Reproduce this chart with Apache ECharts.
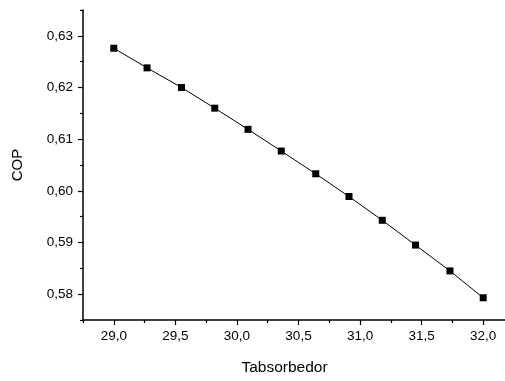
<!DOCTYPE html>
<html>
<head>
<meta charset="utf-8">
<script src="https://cdn.jsdelivr.net/npm/echarts@6/dist/echarts.min.js"></script>
<style>
  html, body { margin: 0; padding: 0; background: #fff; overflow: hidden; }
  #chart { width: 530px; height: 381px; }
</style>
</head>
<body>
<div id="chart"></div>
<script>
// data
const tabsorbedor = [29.0, 29.27, 29.55, 29.82, 30.09, 30.36, 30.64, 30.91, 31.18, 31.45, 31.73, 32.0]
const cop = [0.6276, 0.6238, 0.6200, 0.6160, 0.6119, 0.6077, 0.6033, 0.5989, 0.5943, 0.5895, 0.5845, 0.5793]

// tick positions
const xMajorTicks = [29.0, 29.5, 30.0, 30.5, 31.0, 31.5, 32.0]
const xMinorTicks = [28.75, 29.25, 29.75, 30.25, 30.75, 31.25, 31.75, 32.25]
const yMajorTicks = [0.58, 0.59, 0.60, 0.61, 0.62, 0.63]
const yMinorTicks = [0.575, 0.585, 0.595, 0.605, 0.615, 0.625, 0.635]

const chart = echarts.init(document.getElementById('chart'))

const font = 'Liberation Sans, Arial, sans-serif'
const comma = (v, d) => v.toFixed(d).replace('.', ',')

const option = {
  animation: false,
  backgroundColor: '#fff',
  grid: { left: 83, right: 16, top: 10, bottom: 53 },
  xAxis: [
    {
      type: 'value',
      min: 28.75,
      max: 32.25,
      name: 'Tabsorbedor',
      nameLocation: 'middle',
      nameGap: 40,
      nameTextStyle: { color: '#000', fontFamily: font, fontSize: 15.5, padding: [0, 28, 0, 0] },
      axisLine: { show: true, onZero: false, lineStyle: { color: '#000', width: 1.5 } },
      axisTick: { show: true, length: 5, customValues: xMajorTicks, lineStyle: { color: '#000', width: 1.2 } },
      axisLabel: { customValues: xMajorTicks, color: '#000', fontFamily: font, fontSize: 13.5, margin: 9, formatter: v => comma(v, 1) },
      splitLine: { show: false }
    },
    {
      type: 'value',
      min: 28.75,
      max: 32.25,
      position: 'bottom',
      axisLine: { show: false, onZero: false },
      axisTick: { show: true, length: 3, customValues: xMinorTicks, lineStyle: { color: '#000', width: 1.2 } },
      axisLabel: { show: false },
      splitLine: { show: false }
    }
  ],
  yAxis: [
    {
      type: 'value',
      min: 0.575,
      max: 0.635,
      name: 'COP',
      nameLocation: 'middle',
      nameGap: 58,
      nameTextStyle: { color: '#000', fontFamily: font, fontSize: 15 },
      axisLine: { show: true, onZero: false, lineStyle: { color: '#000', width: 1.5 } },
      axisTick: { show: true, length: 5, customValues: yMajorTicks, lineStyle: { color: '#000', width: 1.2 } },
      axisLabel: { customValues: yMajorTicks, color: '#000', fontFamily: font, fontSize: 13.5, margin: 10, formatter: v => comma(v, 2) },
      splitLine: { show: false }
    },
    {
      type: 'value',
      min: 0.575,
      max: 0.635,
      position: 'left',
      axisLine: { show: false, onZero: false },
      axisTick: { show: true, length: 3, customValues: yMinorTicks, lineStyle: { color: '#000', width: 1.2 } },
      axisLabel: { show: false },
      splitLine: { show: false }
    }
  ],
  series: [
    {
      type: 'line',
      data: tabsorbedor.map((t, i) => [t, cop[i]]),
      symbol: 'rect',
      symbolSize: 7,
      showAllSymbol: true,
      itemStyle: { color: '#000' },
      lineStyle: { color: '#000', width: 1 }
    }
  ]
}

chart.setOption(option)
</script>
</body>
</html>
